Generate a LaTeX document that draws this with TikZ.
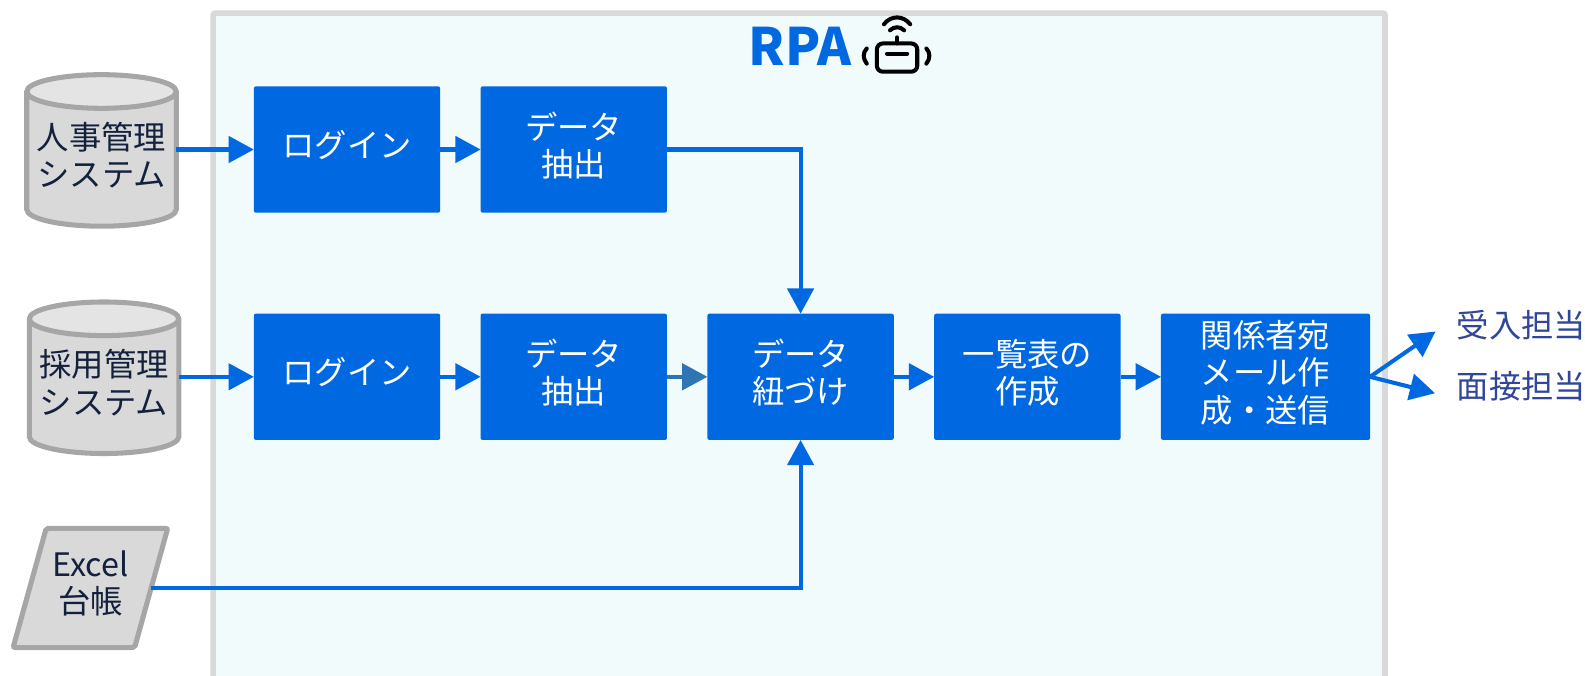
\documentclass[tikz,border=0pt]{standalone}
\usepackage{fontspec}
\setmainfont{Noto Sans CJK JP}
\usetikzlibrary{calc}
\usetikzlibrary{positioning}
\usetikzlibrary{arrows.meta}
\usetikzlibrary{shapes.geometric}
\usetikzlibrary{shapes.symbols}
\definecolor{rpablue}{HTML}{0068E0}
\definecolor{linkteal}{HTML}{2E75B6}
\definecolor{framegray}{HTML}{D9D9D9}
\definecolor{framefill}{HTML}{F2FBFB}
\definecolor{edgegray}{HTML}{A6A6A6}
\definecolor{darktext}{HTML}{14213D}
\definecolor{roletext}{HTML}{2F4699}

\begin{document}
\begin{tikzpicture}[->, >={Triangle[length=12.5pt,width=13pt]}, draw=rpablue, line width=2pt, x=0.5pt, y=-0.5pt, font=\fontsize{16pt}{18.5pt}\selectfont]
	\tikzstyle{proc}=[rectangle, rounded corners=1pt, fill=rpablue, text=white, minimum width=92.25pt, minimum height=62.5pt, inner sep=0pt, outer sep=0pt, align=center, execute at end node={\rule[-5.5pt]{0pt}{0pt}}]
	\tikzstyle{store}=[cylinder, shape border rotate=90, aspect=0.26, draw=edgegray, line width=2.5pt, cylinder uses custom fill, cylinder body fill=framegray, cylinder end fill=framegray!70, text=darktext, minimum width=74pt, minimum height=75pt, inner sep=0pt, outer sep=0pt, align=center, execute at end node={\rule[-5.5pt]{0pt}{0pt}}]
	\tikzstyle{ledger}=[trapezium, trapezium left angle=66, trapezium right angle=114, trapezium stretches body=true, draw=edgegray, line width=2.5pt, rounded corners=1pt, fill=framegray, text=darktext, minimum width=76.5pt, minimum height=59pt, inner sep=0pt, outer sep=0pt, align=center, execute at end node={\rule[-5.5pt]{0pt}{0pt}}]
	\tikzstyle{role}=[text=roletext, inner sep=0pt]
	\tikzstyle{icon}=[-, draw=black, line cap=round, line width=2pt]

	\useasboundingbox (0,0) rectangle (1569,669);

	% frame, open at the bottom
	\fill[framefill] (211,13) rectangle (1371,669);
	\draw[-, draw=framegray, line width=2.8pt, rounded corners=1pt] (211,669) -- (211,13) -- (1371,13) -- (1371,669);

	\node[font=\fontsize{25.5pt}{30pt}\selectfont\bfseries, text=rpablue, inner sep=0pt] (title) at (792,46) {RPA};

	% robot icon
	\draw[icon, rounded corners=3pt] (868,43) rectangle (908,71);
	\draw[icon] (878,53) -- (898,53);
	\draw[icon] (888,43) -- (888,37);
	\draw[icon] (881,30) .. controls (885,26) and (891,26) .. (895,30);
	\draw[icon] (875,24) .. controls (882,15) and (894,15) .. (901,24);
	\draw[icon] (858,48) .. controls (854,52) and (854,58) .. (858,63);
	\draw[icon] (917,48) .. controls (921,52) and (921,58) .. (917,63);

	% upper row
	\node[proc] (login1) at (343.5,148) {ログイン};
	\node[proc, right=20pt of login1] (extract1) {データ\\抽出};
	% lower row
	\node[proc] (login2) at (343.5,373) {ログイン};
	\node[proc, right=20pt of login2] (extract2) {データ\\抽出};
	\node[proc, right=20pt of extract2] (join) {データ\\紐づけ};
	\node[proc, right=20pt of join] (list) {一覧表の\\作成};
	\node[proc, right=20pt of list, minimum width=103.5pt] (mail) {関係者宛\\メール作\\成・送信};

	% sources
	\node[store] (hr) at (100.5,158.5) {人事管理\\システム};
	\node[store] (recruit) at (103,383.5) {採用管理\\システム};
	\node[ledger] (excel) at (89.5,582) {Excel\\台帳};

	% recipients
	\node[role, anchor=west] (accept) at (1440,322) {受入担当};
	\node[role, anchor=west] (interview) at (1440,382) {面接担当};

	\path (login1.west -| hr.east) edge (login1);
	\path (login1) edge (extract1);
	\path (login2.west -| recruit.east) edge (login2);
	\path (login2) edge (extract2);
	\path (extract2) edge[draw=linkteal] (join);
	\path (join) edge (list);
	\path (list) edge (mail);
	\draw (extract1) -| (join);
	\draw (excel) -| (join);
	\draw[shorten >=11.5pt] (mail.east) -- (accept.174);
	\draw[shorten >=10pt] (mail.east) -- (interview.base west);
\end{tikzpicture}
\end{document}
